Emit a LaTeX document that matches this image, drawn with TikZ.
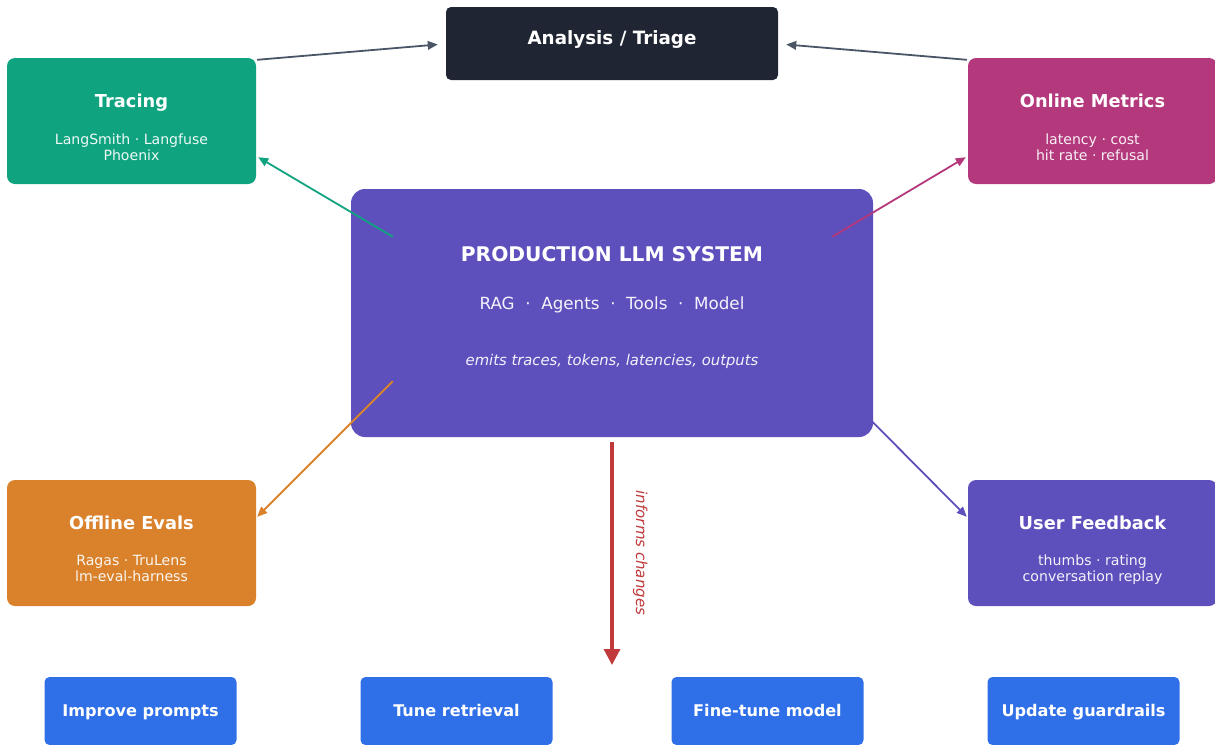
\documentclass[tikz,border=0pt]{standalone}
\usepackage{fontspec}
\setmainfont{DejaVu Sans}
\usetikzlibrary{arrows.meta,calc}

\definecolor{triagebg}{HTML}{1F2533}
\definecolor{tracebg}{HTML}{10A37F}
\definecolor{metricbg}{HTML}{B3387C}
\definecolor{systembg}{HTML}{5D50BD}
\definecolor{evalbg}{HTML}{D9822B}
\definecolor{actionbg}{HTML}{2F6FE8}
\definecolor{slatearrow}{HTML}{4A5568}
\definecolor{changered}{HTML}{C0393B}

\begin{document}
\begin{tikzpicture}[x=1pt, y=-1pt,
  card/.style={rounded corners=8pt, draw=none, inner sep=0pt},
  words/.style={text=white, inner sep=0pt, anchor=base},
  cardtitle/.style={words, font=\fontsize{17.8}{20}\selectfont\bfseries},
  cardsub/.style={words, text opacity=0.93, font=\fontsize{14.1}{16}\selectfont},
  action/.style={card, rounded corners=5pt, fill=actionbg, minimum width=192pt, minimum height=68pt},
  actiontext/.style={words, font=\fontsize{16.1}{19}\selectfont\bfseries},
  link/.style={line width=1.8pt, -{Triangle[length=10pt, width=8.5pt]}},
]
\useasboundingbox (0,0) rectangle (1215,744);
\clip (0,0) rectangle (1215,744);

% ---- top: analysis ----
\node[card, rounded corners=5pt, fill=triagebg, minimum width=332pt, minimum height=73pt] (triage) at (612,43.5) {};
\node[words, font=\fontsize{18.3}{21}\selectfont\bfseries] (triaget) at (612,44) {Analysis / Triage};

% ---- four observation cards ----
\node[card, fill=tracebg, minimum width=249pt, minimum height=126pt] (tracing) at (131.5,121) {};
\node[cardtitle] (tracingt) at (131.5,107.3) {Tracing};
\node[cardsub] (tracings1) at (131.5,144) {LangSmith · Langfuse};
\node[cardsub] (tracings2) at (131.5,160.3) {Phoenix};

\node[card, fill=metricbg, minimum width=249pt, minimum height=126pt] (metrics) at (1092.5,121) {};
\node[cardtitle] (metricst) at (1092.5,107.3) {Online Metrics};
\node[cardsub] (metricss1) at (1092.5,144) {latency · cost};
\node[cardsub] (metricss2) at (1092.5,160.3) {hit rate · refusal};

\node[card, fill=evalbg, minimum width=249pt, minimum height=126pt] (evals) at (131.5,543) {};
\node[cardtitle] (evalst) at (131.5,529) {Offline Evals};
\node[cardsub] (evalss1) at (131.5,565) {Ragas · TruLens};
\node[cardsub] (evalss2) at (131.5,581.3) {lm-eval-harness};

\node[card, fill=systembg, minimum width=249pt, minimum height=126pt] (feedback) at (1092.5,543) {};
\node[cardtitle] (feedbackt) at (1092.5,529) {User Feedback};
\node[cardsub] (feedbacks1) at (1092.5,565) {thumbs · rating};
\node[cardsub] (feedbacks2) at (1092.5,581.3) {conversation replay};

% ---- central system ----
\node[card, rounded corners=14pt, fill=systembg, minimum width=522pt, minimum height=248pt] (sys) at (612,313) {};
\node[words, font=\fontsize{20.2}{24}\selectfont\bfseries] (syst) at (612,261.7) {PRODUCTION LLM SYSTEM};
\node[words, text opacity=0.93, font=\fontsize{16.75}{20}\selectfont] (syss) at (612,309) {RAG \ · \ Agents \ · \ Tools \ · \ Model};
\node[words, text opacity=0.93, font=\fontsize{14.8}{18}\selectfont\itshape] (sysi) at (612,365) {emits traces, tokens, latencies, outputs};

% ---- actions ----
\node[action] (prompts) at (140.5,711) {};
\node[actiontext] (promptst) at (140.5,716.7) {Improve prompts};
\node[action] (retrieval) at (456.5,711) {};
\node[actiontext] (retrievalt) at (456.5,716.7) {Tune retrieval};
\node[action] (finetune) at (767.5,711) {};
\node[actiontext] (finetunet) at (767.5,716.7) {Fine-tune model};
\node[action] (guard) at (1083.5,711) {};
\node[actiontext] (guardt) at (1083.5,716.7) {Update guardrails};

% ---- emitting points inside the system box ----
\coordinate (sysNW) at ($(sys.north west)+(42,48)$);
\coordinate (sysNE) at ($(sys.north east)+(-41,48)$);
\coordinate (sysSW) at ($(sys.south west)+(42,-56)$);
\coordinate (sysSE) at ($(sys.south east)+(-41,-56)$);
\coordinate (changesEnd) at (612,665);

% ---- connectors ----
\draw[link, slatearrow] ($(tracing.north east)+(1,2)$) -- ($(triage.west)+(-8,1)$);
\draw[link, slatearrow] ($(metrics.north west)+(-1,2)$) -- ($(triage.east)+(8,1)$);
\draw[link, tracebg] (sysNW) -- ($(tracing.south east)+(2,-27)$);
\draw[link, metricbg] (sysNE) -- ($(metrics.south west)+(-2,-27)$);
\draw[link, evalbg] (sysSW) -- ($(evals.north east)+(1,37)$);
\draw[link, systembg] (sysSE) -- ($(feedback.north west)+(-1,37)$);

\draw[changered, line width=3.2pt, -{Triangle[length=16pt, width=16pt]}]
  ($(sys.south)+(0,5)$) -- (changesEnd);
\node[rotate=-90, anchor=base, inner sep=0pt, text=changered,
      font=\fontsize{15}{18}\selectfont\itshape] (changeslabel) at (636,553) {informs changes};
\end{tikzpicture}
\end{document}
